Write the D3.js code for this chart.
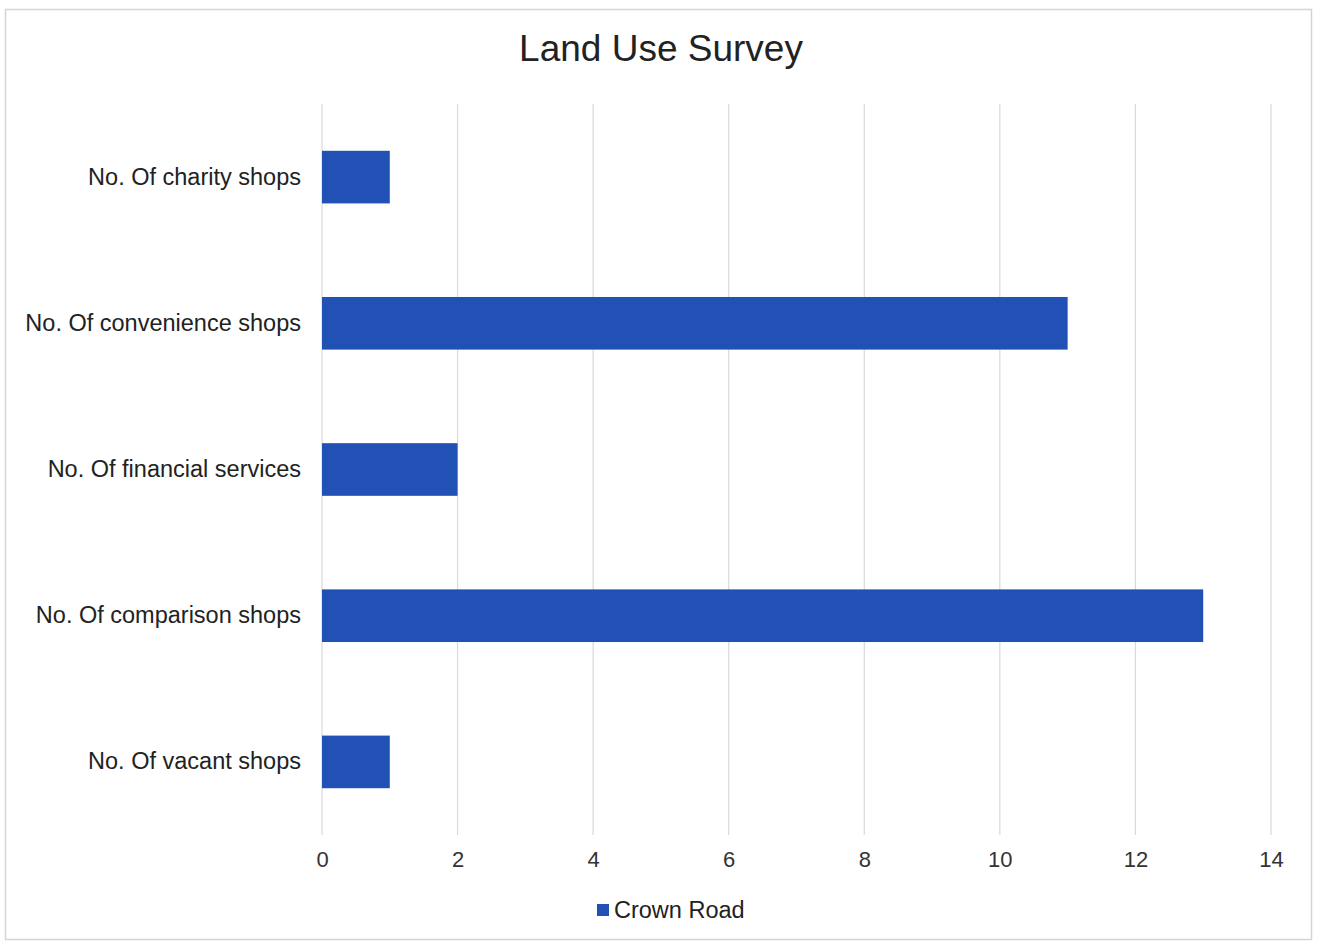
<!DOCTYPE html>
<html>
<head>
<meta charset="utf-8">
<script src="https://cdn.jsdelivr.net/npm/d3@7"></script>
<style>
	body { margin: 0; background: #fff; }
	svg { display: block; font-family: "Liberation Sans", Arial, sans-serif; }
</style>
</head>
<body>
<div id="chart"></div>
<script>
"use strict";

// land use survey - crown road
var categories = [
	"No. Of charity shops",
	"No. Of convenience shops",
	"No. Of financial services",
	"No. Of comparison shops",
	"No. Of vacant shops"
];
var crownRoad = [1, 11, 2, 13, 1];
var xTicks = [0, 2, 4, 6, 8, 10, 12, 14];
var seriesName = "Crown Road";

var width = 1322, height = 944;
var margin = {top: 104, right: 51, bottom: 109, left: 322};
var barColor = "#2251b6";

var svg = d3.select("#chart").append("svg")
	.attr("width", width)
	.attr("height", height);

svg.append("rect")
	.attr("width", width)
	.attr("height", height)
	.attr("fill", "#fff");

// outer frame of the chart area
svg.append("rect")
	.attr("x", 5.5)
	.attr("y", 9.5)
	.attr("width", 1306)
	.attr("height", 930)
	.attr("fill", "none")
	.attr("stroke", "#d4d4d4")
	.attr("stroke-width", 1.5);

var x = d3.scaleLinear()
	.domain([0, 14])
	.range([margin.left, width - margin.right]);

var y = d3.scaleBand()
	.domain(categories)
	.range([margin.top, height - margin.bottom])
	.paddingInner(0.64)
	.paddingOuter(0.32);

// gridlines
svg.append("g")
	.selectAll("line")
	.data(xTicks)
	.join("line")
	.attr("x1", function(d) { return x(d); })
	.attr("x2", function(d) { return x(d); })
	.attr("y1", margin.top)
	.attr("y2", height - margin.bottom)
	.attr("stroke", "#d9d9d9")
	.attr("stroke-width", 1.2);

// bars
svg.append("g")
	.selectAll("rect")
	.data(crownRoad)
	.join("rect")
	.attr("x", x(0))
	.attr("y", function(d, i) { return y(categories[i]); })
	.attr("width", function(d) { return x(d) - x(0); })
	.attr("height", y.bandwidth())
	.attr("fill", barColor);

// category labels
var yAxis = svg.append("g")
	.attr("transform", "translate(" + (margin.left - 21) + ",0)")
	.call(d3.axisLeft(y).tickSize(0).tickPadding(0));
yAxis.select(".domain").remove();
yAxis.selectAll("text")
	.attr("font-size", 23.5)
	.attr("fill", "#222")
	.style("font-family", "Liberation Sans, Arial, sans-serif");

// value axis labels
var xAxis = svg.append("g")
	.attr("transform", "translate(0," + (height - margin.bottom + 16) + ")")
	.call(d3.axisBottom(x).tickValues(xTicks).tickSize(0).tickPadding(0));
xAxis.select(".domain").remove();
xAxis.selectAll("text")
	.attr("font-size", 22)
	.attr("fill", "#333")
	.style("font-family", "Liberation Sans, Arial, sans-serif");

// title
svg.append("text")
	.attr("x", 661)
	.attr("y", 61)
	.attr("text-anchor", "middle")
	.attr("font-size", 37)
	.attr("fill", "#222")
	.text("Land Use Survey");

// legend
svg.append("rect")
	.attr("x", 597)
	.attr("y", 904)
	.attr("width", 12)
	.attr("height", 12)
	.attr("fill", barColor);
svg.append("text")
	.attr("x", 614)
	.attr("y", 918)
	.attr("font-size", 23.5)
	.attr("fill", "#222")
	.text(seriesName);
</script>
</body>
</html>
